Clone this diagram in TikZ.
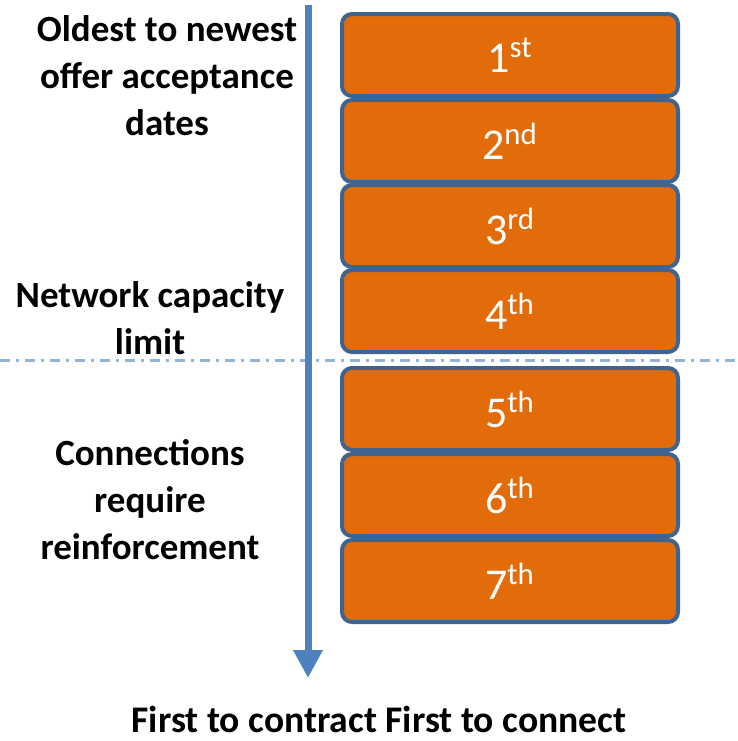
\documentclass[tikz,border=0pt]{standalone}
\usepackage{fontspec}
\setmainfont{Carlito}
\usetikzlibrary{arrows.meta}
\definecolor{rankorange}{HTML}{E36C0A}
\definecolor{rankedge}{HTML}{41648F}
\definecolor{axisblue}{HTML}{4F81BD}
\definecolor{limitblue}{HTML}{95B3D7}
\tikzset{
  rankbox/.style={draw=rankedge,line width=2pt,fill=rankorange,rounded corners=5pt,
    minimum width=168pt,minimum height=41pt,inner sep=0pt,
    text=white,font=\fontsize{22}{26}\selectfont},
  sidelabel/.style={align=center,font=\bfseries\fontsize{18.5}{23.5}\selectfont}
}
\begin{document}
\begin{tikzpicture}[x=0.5pt,y=-0.5pt]
 \useasboundingbox (0,0) rectangle (738,741);
 % limit line
 \coordinate (limL) at (0,360);
 \coordinate (limR) at (738,360);
 \draw[limitblue,line width=1.5pt,dash pattern=on 5pt off 3pt on 1.5pt off 3pt] (limL) -- (limR);
 % ranked offers
 \node[rankbox] (r1) at (510,55) {1\textsuperscript{st}};
 \node[rankbox] (r2) at (510,141) {2\textsuperscript{nd}};
 \node[rankbox] (r3) at (510,226) {3\textsuperscript{rd}};
 \node[rankbox] (r4) at (510,311) {4\textsuperscript{th}};
 \node[rankbox] (r5) at (510,409) {5\textsuperscript{th}};
 \node[rankbox] (r6) at (510,495) {6\textsuperscript{th}};
 \node[rankbox] (r7) at (510,581) {7\textsuperscript{th}};
 % time axis
 \coordinate (axTop) at (308,5);
 \coordinate (axBot) at (308,678);
 \draw[axisblue,line width=3.5pt,-{Triangle[width=14pt,length=14pt]}] (axTop) -- (axBot);
 % labels
 \node[sidelabel] (oldest) at (167,76) {Oldest to newest\\offer acceptance\\dates};
 \node[sidelabel] (capacity) at (150,318) {Network capacity\\limit};
 \node[sidelabel] (reinf) at (150,500) {Connections\\require\\reinforcement};
 \node[font=\bfseries\fontsize{18.8}{22}\selectfont,inner sep=0pt] (rule) at (379,719) {First to contract First to connect};
\end{tikzpicture}
\end{document}
